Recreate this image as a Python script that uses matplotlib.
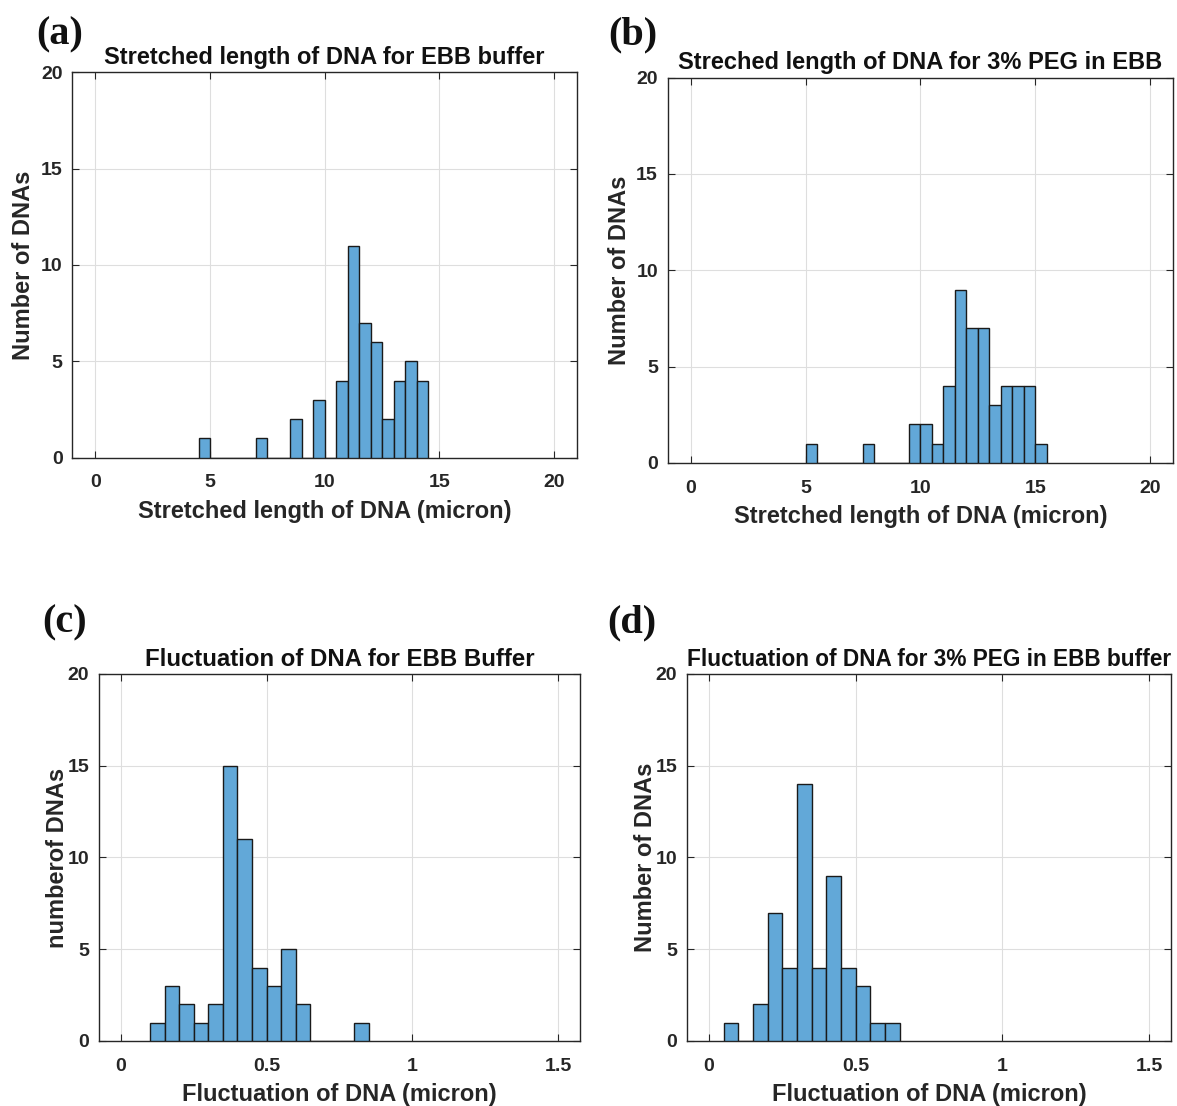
import numpy as np
import matplotlib
matplotlib.use("Agg")
import matplotlib.pyplot as plt

plt.rcParams["font.family"] = ["Liberation Sans", "DejaVu Sans"]
plt.rcParams["font.weight"] = "bold"

# Histogram counts per bin (bins start at *_start with fixed width)
a_start, a_width = 4.5, 0.5
a_counts = [1, 0, 0, 0, 0, 1, 0, 0, 2, 0, 3, 0, 4, 11, 7, 6, 2, 4, 5, 4]

b_start, b_width = 5.0, 0.5
b_counts = [1, 0, 0, 0, 0, 1, 0, 0, 0, 2, 2, 1, 4, 9, 7, 7, 3, 4, 4, 4, 1]

c_start, c_width = 0.10, 0.05
c_counts = [1, 3, 2, 1, 2, 15, 11, 4, 3, 5, 2, 0, 0, 0, 1]

d_start, d_width = 0.05, 0.05
d_counts = [1, 0, 2, 7, 4, 14, 4, 9, 4, 3, 1, 1]

length_ticks = [0, 5, 10, 15, 20]
fluct_ticks = [0, 0.5, 1, 1.5]
fluct_ticklabels = ["0", "0.5", "1", "1.5"]
count_ticks = [0, 5, 10, 15, 20]

panels = [
    dict(tag="(a)", title="Stretched length of DNA for EBB buffer",
         xlabel="Stretched length of DNA (micron)", ylabel="Number of DNAs",
         start=a_start, width=a_width, counts=a_counts,
         xlim=(-1, 21), xticks=length_ticks, xticklabels=None,
         pos=[0.0614, 0.5862, 0.4290, 0.3485], tagxy=(0.031, 0.968),
         title_size=17, ylabelpad=4),
    dict(tag="(b)", title="Streched length of DNA for 3% PEG in EBB",
         xlabel="Stretched length of DNA (micron)", ylabel="Number of DNAs",
         start=b_start, width=b_width, counts=b_counts,
         xlim=(-1, 21), xticks=length_ticks, xticklabels=None,
         pos=[0.5673, 0.5814, 0.4293, 0.3484], tagxy=(0.517, 0.968),
         title_size=17, ylabelpad=4),
    dict(tag="(c)", title="Fluctuation of DNA for EBB Buffer",
         xlabel="Fluctuation of DNA (micron)", ylabel="numberof DNAs",
         start=c_start, width=c_width, counts=c_counts,
         xlim=(-0.075, 1.575), xticks=fluct_ticks, xticklabels=fluct_ticklabels,
         pos=[0.0841, 0.0588, 0.4087, 0.3318], tagxy=(0.036, 0.437),
         title_size=17.3, ylabelpad=-1),
    dict(tag="(d)", title="Fluctuation of DNA for 3% PEG in EBB buffer",
         xlabel="Fluctuation of DNA (micron)", ylabel="Number of DNAs",
         start=d_start, width=d_width, counts=d_counts,
         xlim=(-0.075, 1.575), xticks=fluct_ticks, xticklabels=fluct_ticklabels,
         pos=[0.5837, 0.0588, 0.4112, 0.3318], tagxy=(0.516, 0.437),
         title_size=16.3, ylabelpad=-1),
]

fig = plt.figure(figsize=(11.77, 11.06), dpi=100)
fig.patch.set_facecolor("white")

bar_color = "#62a8d8"
frame_color = "#262626"

for p in panels:
    ax = fig.add_axes(p["pos"])
    counts = np.asarray(p["counts"])
    left_edges = p["start"] + p["width"] * np.arange(len(counts))
    ax.bar(left_edges, counts, width=p["width"], align="edge",
           color=bar_color, edgecolor="#1a1a1a", linewidth=1.0, zorder=3)
    ax.set_xlim(*p["xlim"])
    ax.set_ylim(0, 20)
    ax.set_xticks(p["xticks"])
    if p["xticklabels"] is not None:
        ax.set_xticklabels(p["xticklabels"])
    ax.set_yticks(count_ticks)
    ax.grid(True, color="#dedede", linewidth=0.8, zorder=0)
    ax.set_axisbelow(True)
    for s in ax.spines.values():
        s.set_color(frame_color)
        s.set_linewidth(1.0)
    ax.tick_params(direction="in", length=5, width=0.8, top=True, right=True,
                   colors=frame_color, labelsize=14)
    ax.tick_params(axis="x", pad=12)
    ax.tick_params(axis="y", pad=7)
    for lbl in ax.get_xticklabels() + ax.get_yticklabels():
        lbl.set_fontweight("bold")
    ax.set_title(p["title"], fontsize=p["title_size"], fontweight="bold",
                 pad=6, color="#111111")
    ax.set_xlabel(p["xlabel"], fontsize=17, fontweight="bold", labelpad=6,
                  color=frame_color)
    ax.set_ylabel(p["ylabel"], fontsize=17, fontweight="bold",
                  labelpad=p["ylabelpad"], color=frame_color)
    fig.text(p["tagxy"][0], p["tagxy"][1], p["tag"], fontsize=29,
             fontweight="bold", family=["Liberation Serif", "DejaVu Serif"],
             ha="left", va="center", color="#111111")

fig.savefig("out.png", dpi=100, facecolor="white")
